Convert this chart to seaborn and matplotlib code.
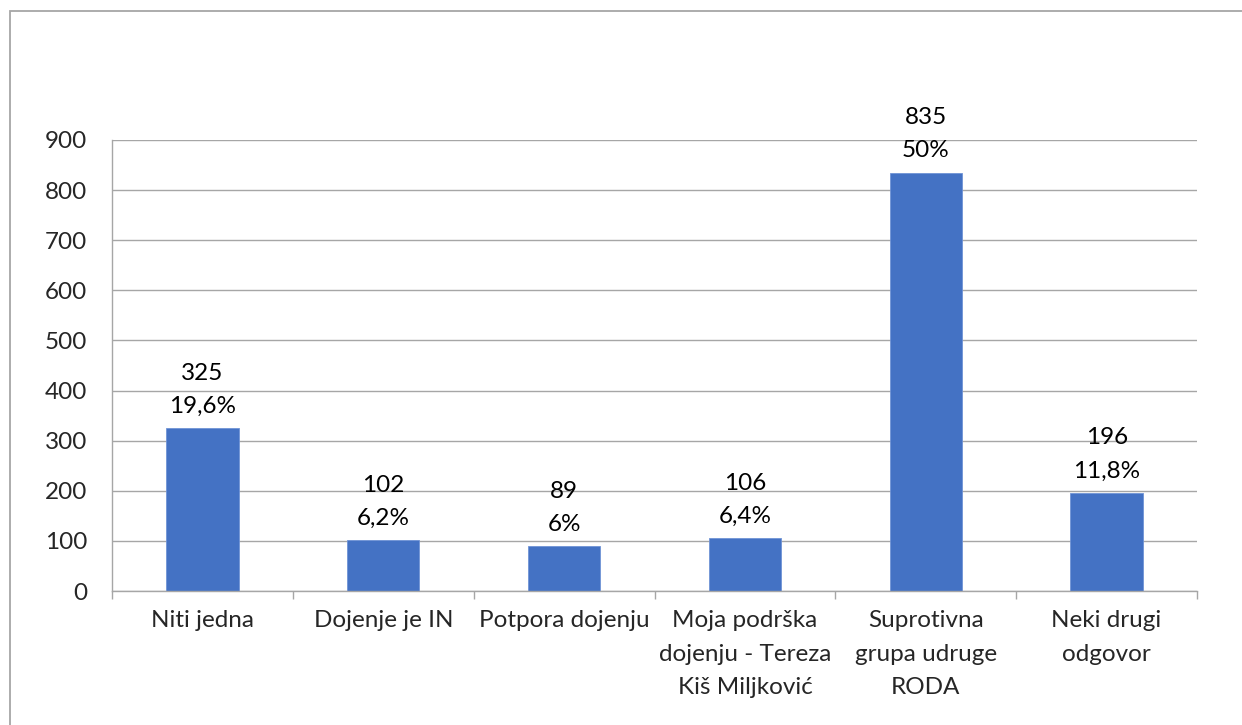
import numpy as np
import pandas as pd
import matplotlib.pyplot as plt
from matplotlib.patches import Rectangle
import seaborn as sns

categories = ["Niti jedna", "Dojenje je IN", "Potpora dojenju",
              "Moja podrška\ndojenju - Tereza\nKiš Miljković",
              "Suprotivna\ngrupa udruge\nRODA", "Neki drugi\nodgovor"]
counts = [325, 102, 89, 106, 835, 196]
percent_labels = ["19,6%", "6,2%", "6%", "6,4%", "50%", "11,8%"]

df = pd.DataFrame({"odgovor": categories, "broj": counts})

sns.set_theme(style="white")
plt.rcParams['font.family'] = ['Lato', 'DejaVu Sans']

grey = "#A6A6A6"
fs = 17.5

fig = plt.figure(figsize=(12.42, 7.25), dpi=100)
ax = fig.add_axes([0.0902, 0.1848, 0.8736, 0.6221])

sns.barplot(data=df, x="odgovor", y="broj", color="#4472C4", saturation=1,
            width=0.40, edgecolor="#6F93D6", linewidth=0.6, ax=ax)

# labels above bars: count and percentage
for i, (c, p) in enumerate(zip(counts, percent_labels)):
    ax.annotate(f"{c}\n{p}", xy=(i, c), xytext=(0, 8), textcoords="offset points",
                ha="center", va="bottom", fontsize=fs, linespacing=1.72, color="black")

ax.set_ylim(0, 900)
ax.set_xlim(-0.5, 5.5)
ax.set_yticks(np.arange(0, 901, 100))
ax.yaxis.grid(True, color=grey, linewidth=1.0)
ax.set_axisbelow(True)
ax.set_xlabel("")
ax.set_ylabel("")

for s in ["top", "right"]:
    ax.spines[s].set_visible(False)
for s in ["left", "bottom"]:
    ax.spines[s].set_color(grey)
    ax.spines[s].set_linewidth(1.0)

ax.set_xticks(range(len(categories)))
ax.set_xticklabels(categories, fontsize=fs, linespacing=1.72, va="top")
ax.set_xticks(np.arange(-0.5, 6.0, 1.0), minor=True)
ax.tick_params(axis="x", which="major", length=0, pad=14)
ax.tick_params(axis="x", which="minor", length=6, color=grey, width=1.0, direction="out")
ax.tick_params(axis="y", length=6, color=grey, width=1.0, direction="out", pad=12, labelsize=fs)
ax.tick_params(axis="x", bottom=True, which="both")

# chart-area border like the original
fig.add_artist(Rectangle((10 / 1242, -0.1), 1.2, 1.1 - 11 / 725, transform=fig.transFigure,
                         fill=False, edgecolor=grey, linewidth=1.3))

fig.savefig("out.png", dpi=100)
